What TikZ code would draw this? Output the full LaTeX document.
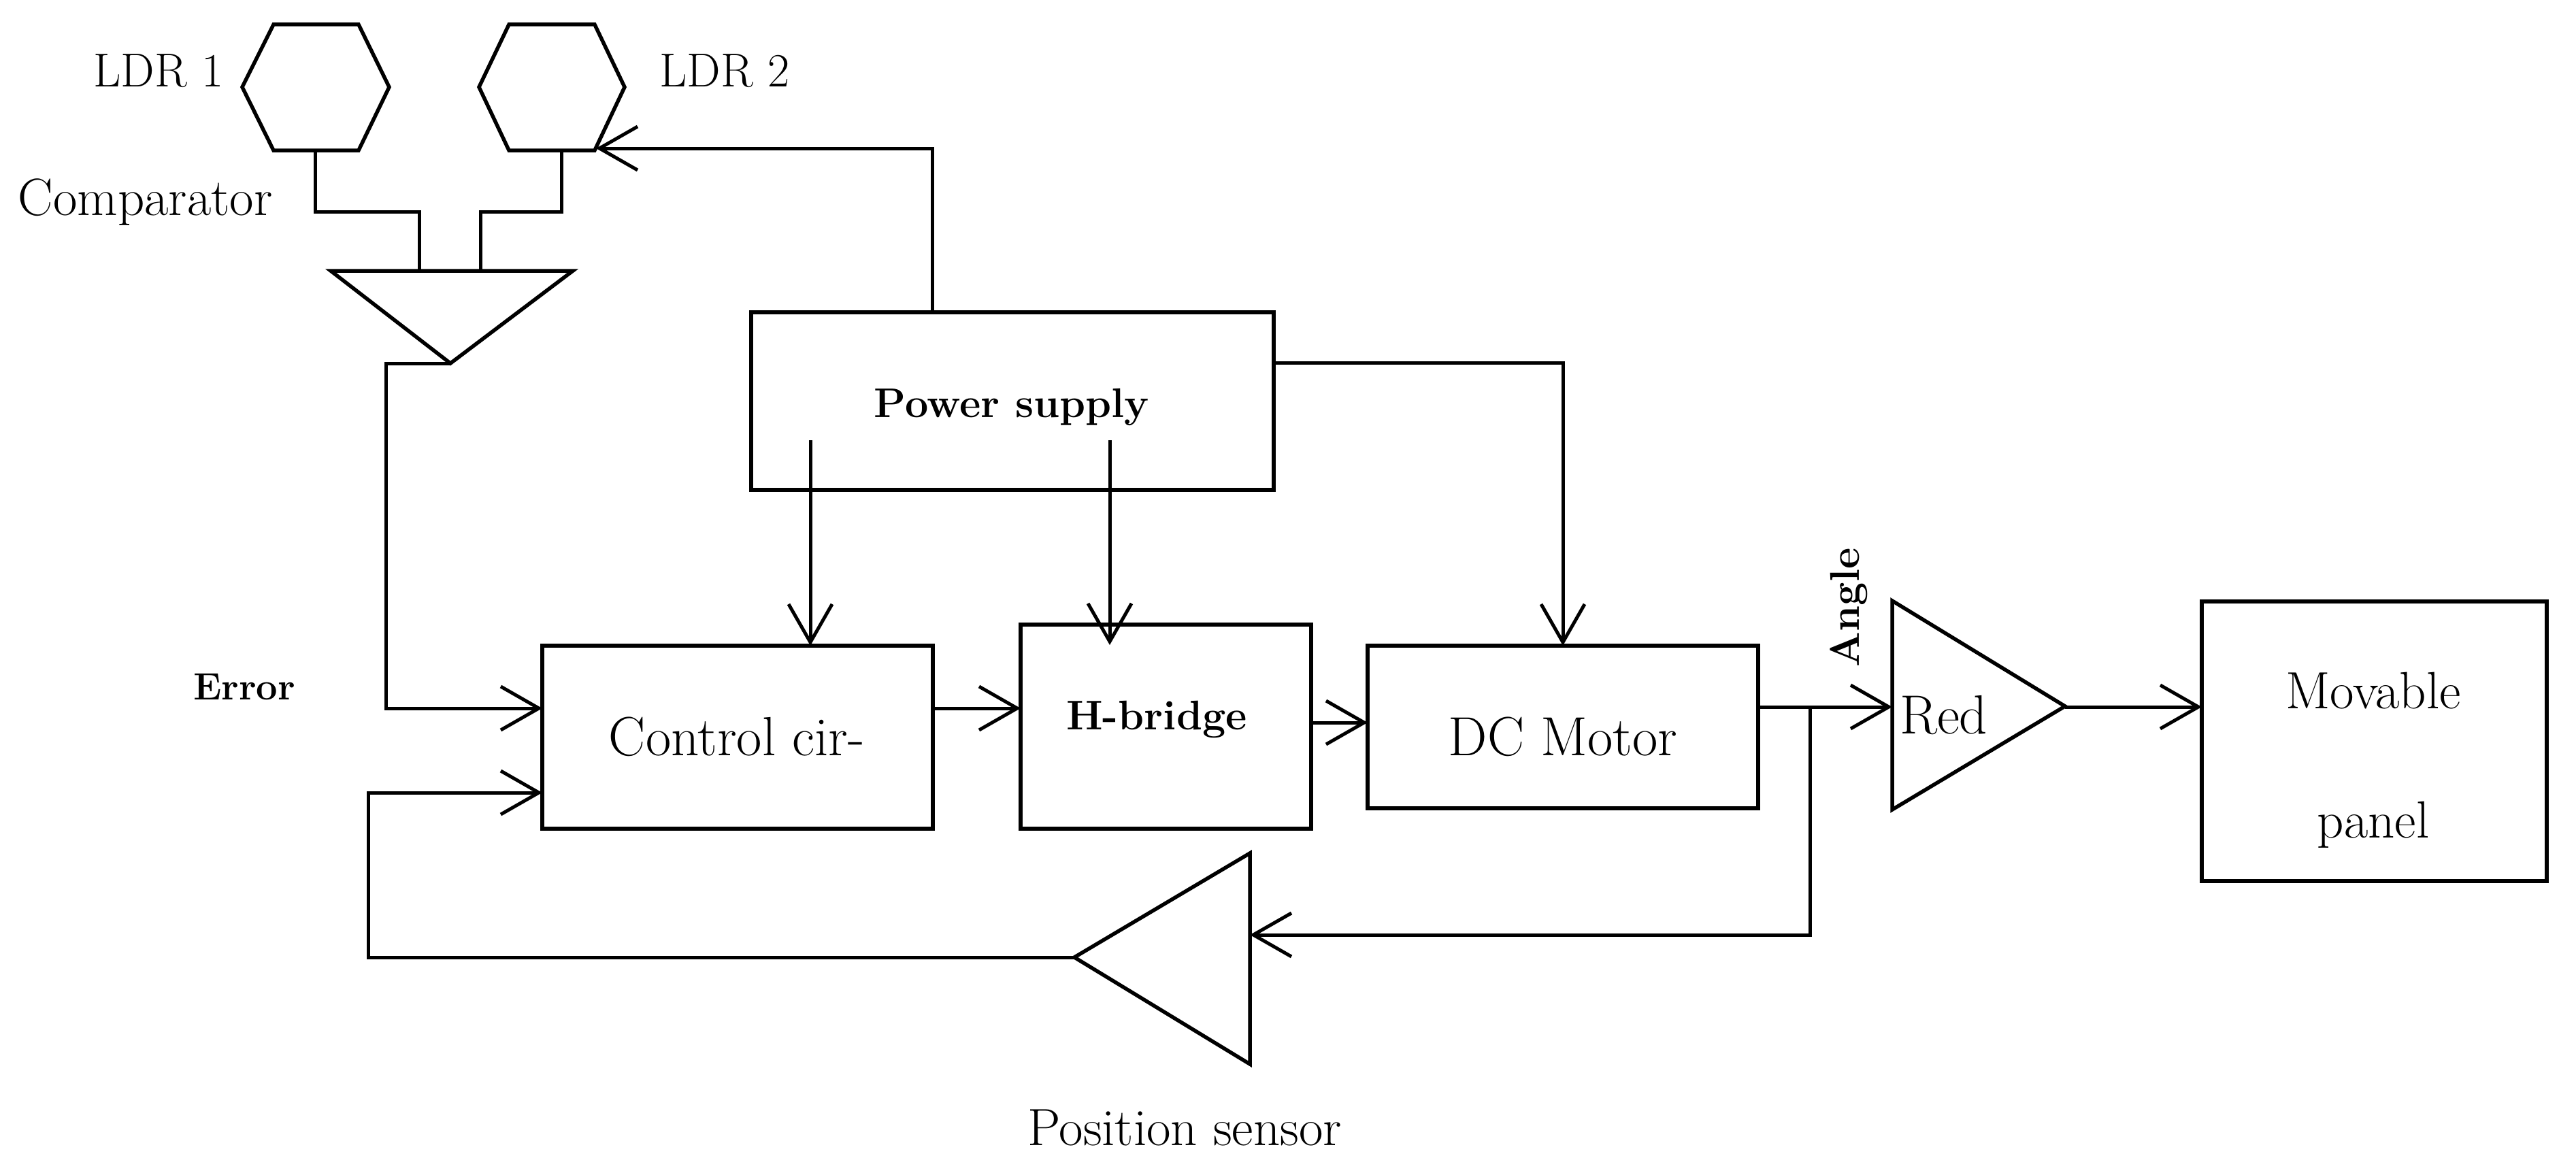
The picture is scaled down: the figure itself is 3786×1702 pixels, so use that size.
\documentclass[tikz,border=0pt]{standalone}
\usepackage{fontspec}
\usetikzlibrary{arrows.meta}
\begin{document}
\begin{tikzpicture}[x=1pt,y=-1pt,
  wire/.style={line width=5pt},
  arr/.style={wire,-{Straight Barb[length=56pt,width=64pt,line width=5pt]}},
  blk/.style={draw,line width=5.5pt,rectangle,inner sep=0pt,outer sep=0pt},
  shp/.style={line width=5.5pt,line join=miter},
  lbl/.style={inner sep=0pt,outer sep=0pt,font={\fontsize{77}{92}\selectfont}},
  big/.style={inner sep=0pt,outer sep=0pt,font={\fontsize{81}{97}\selectfont}},
  blbl/.style={inner sep=0pt,outer sep=0pt,font={\fontsize{61}{73}\selectfont\bfseries}}
]
\useasboundingbox (0,0) rectangle (3786,1702);
\fill[white] (0,0) rectangle (3786,1702);

% ---- blocks ----
\node[blk,minimum width=768pt,minimum height=261pt] (ps) at (1488,589.5) {};
\node[blk,minimum width=574pt,minimum height=269pt] (ctrl) at (1084,1083.5) {};
\node[blk,minimum width=427pt,minimum height=300pt] (hb) at (1713.5,1068) {};
\node[blk,minimum width=574pt,minimum height=239pt] (dc) at (2297,1068.5) {};
\node[blk,minimum width=507pt,minimum height=411pt] (mp) at (3489.5,1089.5) {};

% ---- LDR hexagons ----
\draw[shp] (402,36) -- (527,36) -- (572,128) -- (527,221) -- (402,221) -- (356,128) -- cycle;
\draw[shp] (748,36) -- (874,36) -- (918,128) -- (874,221) -- (748,221) -- (704,128) -- cycle;
\coordinate (l1b) at (463,221);
\coordinate (l2b) at (825,221);
\coordinate (l2c) at (876,218);

% ---- comparator ----
\draw[shp] (486,398) -- (842,398) -- (662,534) -- cycle;
\coordinate (cmpL) at (616,398);
\coordinate (cmpR) at (706,398);
\coordinate (cmpO) at (662,534);

% ---- Red amplifier ----
\draw[shp] (2781,883) -- (2781,1190) -- (3035,1038) -- cycle;
\coordinate (redI) at (2781,1039);
\coordinate (redO) at (3035,1039);

% ---- position sensor ----
\draw[shp] (1837,1254) -- (1837,1564) -- (1579,1407) -- cycle;
\coordinate (posI) at (1837,1374);
\coordinate (posO) at (1579,1407);

% ---- ports ----
\coordinate (psT) at (1370,459);
\coordinate (psR) at (1872,533);
\coordinate (ps1) at (1191,647);
\coordinate (ps2) at (1631,647);
\coordinate (ctrlP) at (1191,949);
\coordinate (hbP) at (1631,948);
\coordinate (ctrlE) at (797,1041);
\coordinate (ctrlF) at (797,1165);
\coordinate (ctrlO) at (1371,1041);
\coordinate (hbI) at (1500,1041);
\coordinate (hbO) at (1927,1062);
\coordinate (dcI) at (2010,1062);
\coordinate (dcO) at (2584,1039);
\coordinate (br) at (2660,1039);
\coordinate (mpI) at (3236,1039);

% ---- connectors ----
\draw[wire] (l1b) -- ++(0,90) -| (cmpL);
\draw[wire] (l2b) -- ++(0,90) -| (cmpR);
\draw[arr] (cmpO) -- ++(-95,0) |- (ctrlE);
\draw[arr] (psT) |- (l2c);
\draw[arr] (psR) -| (dc.north);
\draw[arr] (ps1) -- (ctrlP);
\draw[arr] (ps2) -- (hbP);
\draw[arr] (ctrlO) -- (hbI);
\draw[arr] (hbO) -- (dcI);
\draw[arr] (dcO) -- (redI);
\draw[arr] (br) |- (posI);
\draw[arr] (posO) -- ++(-1038,0) |- (ctrlF);
\draw[arr] (redO) -- (mpI);

% ---- labels ----
\node[lbl,font={\fontsize{70}{84}\selectfont},anchor=base] (tl1) at (233,127) {LDR 1};
\node[lbl,font={\fontsize{70}{84}\selectfont},anchor=base] (tl2) at (1065,127) {LDR 2};
\node[lbl,anchor=base west] (tcmp) at (27,316) {Comparator};
\node[blbl,font={\fontsize{56}{67}\selectfont\bfseries},anchor=base west] (terr) at (284,1028) {Error};
\node[blbl,anchor=base] (tps) at (1487,613) {Power supply};
\node[big,anchor=base] (tctrl) at (1083,1110) {Control cir-};
\node[blbl,anchor=base] (thb) at (1700,1072) {H-bridge};
\node[big,anchor=base] (tdc) at (2297,1110) {DC Motor};
\node[big,anchor=base west] (tred) at (2792,1078) {Red};
\node[blbl,rotate=90,anchor=base west] (tang) at (2732,980) {Angle};
\node[lbl,anchor=base] (tmp1) at (3488,1041) {Movable};
\node[lbl,anchor=base] (tmp2) at (3488,1231) {panel};
\node[lbl,anchor=base] (tpos) at (1741,1683) {Position sensor};
\end{tikzpicture}
\end{document}
